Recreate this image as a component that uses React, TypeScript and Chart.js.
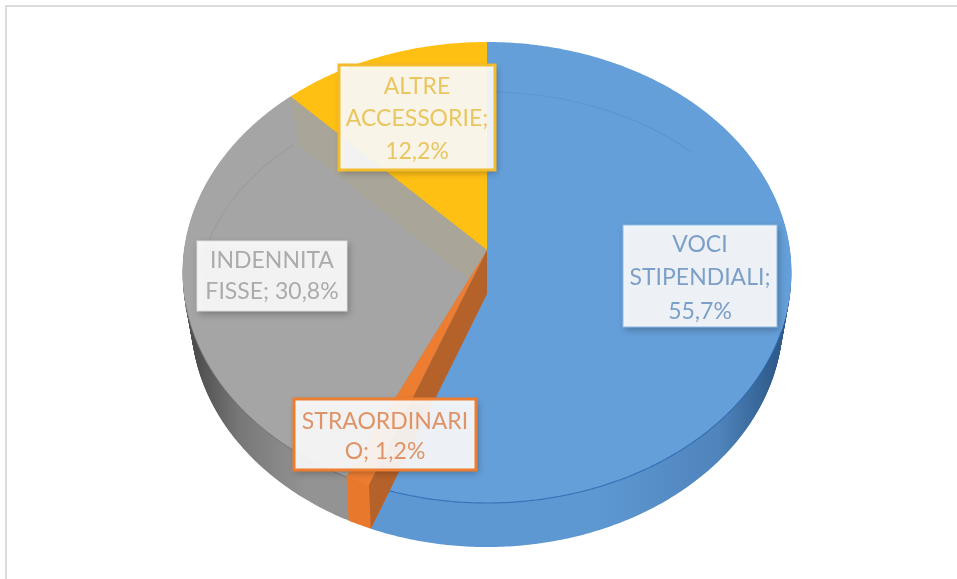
import React, { useEffect, useRef } from "react";
import { Chart, registerables } from "chart.js";

Chart.register(...registerables);

const categories = ["VOCI STIPENDIALI", "STRAORDINARIO", "INDENNITA FISSE", "ALTRE ACCESSORIE"];
const values = [55.7, 1.2, 30.8, 12.2];
const colors = ["#659FD9", "#ED7D31", "#A5A5A5", "#FFC014"];
const sideEdge = ["#2F5C8C", "#C96A28", "#4E4E4E", "#B88A10"];
const sideShade = ["#4F84BC", "#D8722B", "#777777", "#D9A212"];
const sideMid = ["#5E98D3", "#E8782C", "#939393", "#F0B414"];
const rimLines = ["rgba(35,95,170,0.65)", "rgba(0,0,0,0)", "rgba(105,105,105,0.5)", "rgba(0,0,0,0)"];
const labelLines = [
  ["VOCI", "STIPENDIALI;"],
  ["STRAORDINARI", "O;"],
  ["INDENNITA", "FISSE;"],
  ["ALTRE", "ACCESSORIE;"],
];
const labelJoin = [false, true, true, false];
const labelColors = ["#7C9FC8", "#DE9468", "#ABABAB", "#E9C660"];
const labelBorders = ["#8FBBE6", "#ED7D31", "#DEDEDE", "#F2BC2C"];
const labelBorderWidths = [1, 3, 1, 3];
const labelBoxes = [
  [623, 225, 154, 102],
  [294, 399, 182, 71],
  [197, 241, 150, 70],
  [339, 65, 156, 105],
];
const labelLineY = [
  [245, 278, 312],
  [422, 452],
  [261, 292],
  [87, 119, 152],
];

// perspective of the top face and of the lower rim
const TOP = { k: 0.0976, fx: 303, fy: 228.3, dy: 0 };
const RIM = { k: 0.112, fx: 294, fy: 224.7, dy: 44 };

function disc(cx: number, cy: number, a: number, p: typeof TOP): [number, number] {
  const u = Math.cos(a);
  const v = Math.sin(a);
  const d = 1 - p.k * v;
  return [cx + (p.fx * u) / d, cy + p.dy + (p.fy * v) / d];
}
function pt(cx: number, cy: number, a: number, s: number): [number, number] {
  const t = disc(cx, cy, a, TOP);
  const b = disc(cx, cy, a, RIM);
  return [t[0] + (b[0] - t[0]) * s, t[1] + (b[1] - t[1]) * s];
}
function apex(cx: number, cy: number, s: number): [number, number] {
  return [cx, cy + s * RIM.dy];
}
function wedge(ctx: CanvasRenderingContext2D, cx: number, cy: number, a0: number, a1: number, s: number) {
  ctx.beginPath();
  const c = apex(cx, cy, s);
  ctx.moveTo(c[0], c[1]);
  const n = Math.max(2, Math.ceil((a1 - a0) / 0.01));
  for (let i = 0; i <= n; i++) {
    const p = pt(cx, cy, a0 + ((a1 - a0) * i) / n, s);
    ctx.lineTo(p[0], p[1]);
  }
  ctx.closePath();
}
function quad(ctx: CanvasRenderingContext2D, cx: number, cy: number, a: number, fill: string) {
  const c0 = apex(cx, cy, 0);
  const c1 = apex(cx, cy, 1);
  const e0 = pt(cx, cy, a, 0);
  const e1 = pt(cx, cy, a, 1);
  ctx.beginPath();
  ctx.moveTo(c0[0], c0[1]);
  ctx.lineTo(c1[0], c1[1]);
  ctx.lineTo(e1[0], e1[1]);
  ctx.lineTo(e0[0], e0[1]);
  ctx.closePath();
  ctx.fillStyle = fill;
  ctx.fill();
}
function rimArc(ctx: CanvasRenderingContext2D, cx: number, cy: number, a0: number, a1: number, stroke: string) {
  ctx.beginPath();
  const n = Math.max(2, Math.ceil((a1 - a0) / 0.01));
  for (let i = 0; i <= n; i++) {
    const p = pt(cx, cy, a0 + ((a1 - a0) * i) / n, 0);
    if (i === 0) ctx.moveTo(p[0], p[1]);
    else ctx.lineTo(p[0], p[1]);
  }
  ctx.strokeStyle = stroke;
  ctx.lineWidth = 1.2;
  ctx.stroke();
}
function ringArc(ctx: CanvasRenderingContext2D, t0: number, t1: number, stroke: string) {
  ctx.beginPath();
  ctx.ellipse(487, 297, 289, 205, 0, (t0 * Math.PI) / 180, (t1 * Math.PI) / 180);
  ctx.strokeStyle = stroke;
  ctx.lineWidth = 1.2;
  ctx.stroke();
}

const piePlugin = {
  id: "tiltedPie",
  beforeDatasetDraw(chart: any) {
    const ctx: CanvasRenderingContext2D = chart.ctx;
    const arcs = chart.getDatasetMeta(0).data as any[];
    const cx = arcs[0].x;
    const cy = arcs[0].y;
    ctx.save();
    // side walls
    const order = [0, 2, 3, 1];
    for (const i of order) {
      const g = ctx.createLinearGradient(184, 0, 792, 0);
      g.addColorStop(0, sideEdge[i]);
      g.addColorStop(0.02, sideEdge[i]);
      g.addColorStop(0.09, sideShade[i]);
      g.addColorStop(0.2, sideMid[i]);
      g.addColorStop(0.68, sideMid[i]);
      g.addColorStop(0.88, sideShade[i]);
      g.addColorStop(0.97, sideEdge[i]);
      g.addColorStop(1, sideEdge[i]);
      ctx.fillStyle = g;
      for (let s = 1; s >= 0; s -= 0.02) {
        wedge(ctx, cx, cy, arcs[i].startAngle, arcs[i].endAngle, s);
        ctx.fill();
      }
    }
    // top faces
    for (const i of [0, 2, 3]) {
      wedge(ctx, cx, cy, arcs[i].startAngle, arcs[i].endAngle, 0);
      ctx.fillStyle = colors[i];
      ctx.fill();
    }
    // edge of the top face on the near side
    rimArc(ctx, cx, cy, 0.35, arcs[0].endAngle, rimLines[0]);
    rimArc(ctx, cx, cy, arcs[2].startAngle, 2.9, rimLines[2]);
    // faint far-side ring
    ringArc(ctx, -90, -45, "rgba(60,110,170,0.2)");
    ringArc(ctx, 188, 228, "rgba(130,130,130,0.25)");
    // inner wall between grey and yellow
    quad(ctx, cx, cy, arcs[3].startAngle, "#A9A598");
    // orange face and inner wall
    wedge(ctx, cx, cy, arcs[1].startAngle, arcs[1].endAngle, 0);
    ctx.fillStyle = colors[1];
    ctx.fill();
    quad(ctx, cx, cy, arcs[1].startAngle, "#B5612A");
    ctx.restore();
    return false;
  },
  afterDraw(chart: any) {
    const ctx: CanvasRenderingContext2D = chart.ctx;
    ctx.save();
    // frame
    ctx.fillStyle = "#DCDCDC";
    ctx.fillRect(5, 5, 952, 2);
    ctx.fillRect(5, 5, 2, 574);
    // labels
    values.forEach((v, i) => {
      const [x, y, w, h] = labelBoxes[i];
      ctx.save();
      ctx.shadowColor = "rgba(0,0,0,0.3)";
      ctx.shadowBlur = 7;
      ctx.shadowOffsetX = 2;
      ctx.shadowOffsetY = 3;
      ctx.fillStyle = "rgba(255,255,255,0.9)";
      ctx.fillRect(x, y, w, h);
      ctx.restore();
      ctx.strokeStyle = labelBorders[i];
      ctx.lineWidth = labelBorderWidths[i];
      ctx.strokeRect(x, y, w, h);
      const pct = v.toFixed(1).replace(".", ",") + "%";
      const lines = labelJoin[i]
        ? [...labelLines[i].slice(0, -1), labelLines[i][labelLines[i].length - 1] + " " + pct]
        : [...labelLines[i], pct];
      ctx.fillStyle = labelColors[i];
      ctx.font = '23px Lato, "Open Sans", sans-serif';
      ctx.textAlign = "center";
      ctx.textBaseline = "middle";
      lines.forEach((t, j) => ctx.fillText(t, x + w / 2, labelLineY[i][j]));
    });
    ctx.restore();
  },
};

export default function App() {
  const ref = useRef<HTMLCanvasElement>(null);
  useEffect(() => {
    const chart = new Chart(ref.current!, {
      type: "pie",
      data: {
        labels: categories,
        datasets: [{ data: values, backgroundColor: colors, borderWidth: 0 }],
      },
      options: {
        responsive: false,
        animation: false,
        layout: { padding: { left: 17, right: 0, top: 42, bottom: 121 } },
        plugins: { legend: { display: false }, tooltip: { enabled: false } },
      },
      plugins: [piePlugin],
    } as any);
    return () => chart.destroy();
  }, []);
  return (
    <div style={{ position: "absolute", left: 0, top: 0, width: 957, height: 579, background: "#fff" }}>
      <canvas ref={ref} width={957} height={579} style={{ display: "block" }} />
    </div>
  );
}
